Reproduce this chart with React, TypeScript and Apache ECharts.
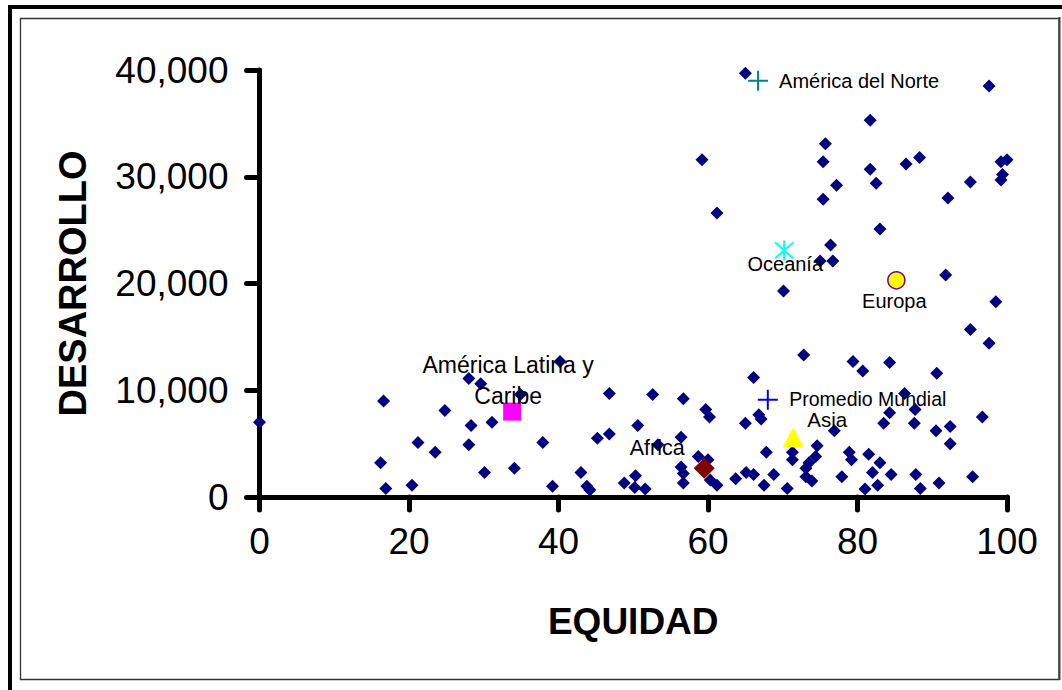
import React, { useEffect, useRef } from 'react';
import * as echarts from 'echarts';

// Countries: EQUIDAD (x) and DESARROLLO (y)
const equidad = [
  65.0, 97.6, 81.7, 75.7, 59.2, 75.4, 88.3, 86.5, 81.7, 99.2,
  100, 77.2, 82.5, 95.1, 99.4, 99.2, 75.4, 92.1, 61.2, 83.0,
  76.4, 75.0, 76.7, 91.8, 70.1, 98.5, 95.1, 97.6, 72.8, 79.4,
  84.3, 80.7, 90.6, 66.1, 52.6, 56.7, 86.3, 59.7, 60.2, 66.8,
  67.1, 65.0, 84.3, 87.7, 96.7, 83.5, 87.6, 76.9, 90.5, 92.4,
  92.4, 56.4, 67.8, 71.3, 71.3, 74.6, 74.4, 73.5, 73.1, 73.1,
  73.9, 78.9, 79.2, 81.5, 83.0, 58.7, 60.0, 56.4, 56.7, 56.7,
  60.3, 61.2, 63.7, 65.1, 66.1, 67.5, 68.8, 70.6, 77.9, 82.0,
  84.5, 82.7, 81.0, 87.8, 88.4, 90.9, 95.4, 51.6, 46.8, 50.6,
  46.8, 45.2, 37.9, 53.3, 34.1, 43.0, 39.2, 43.8, 44.2, 48.8,
  50.3, 50.2, 28.0, 29.6, 34.9, 16.6, 24.8, 0, 28.3, 31.1,
  21.2, 28.0, 23.5, 16.2, 30.1, 16.9, 20.4, 40.2,
];
const desarrollo = [
  39700, 38500, 35300, 33100, 31600, 31400, 31800, 31200, 30700, 31400,
  31600, 29200, 29400, 29500, 30200, 29700, 27900, 28000, 26600, 25100,
  23600, 22100, 22100, 20800, 19300, 18300, 15700, 14400, 13300, 12700,
  12600, 11800, 11600, 11200, 9600, 9200, 9700, 8200, 7500, 7700,
  7300, 6900, 7900, 8200, 7500, 6900, 6900, 6200, 6200, 6600,
  5000, 5600, 4200, 4200, 3500, 4800, 3800, 3200, 2700, 1900,
  1500, 4200, 3500, 4000, 3200, 3800, 3500, 2800, 2200, 1300,
  1600, 1100, 1700, 2300, 2100, 1100, 2100, 800, 1900, 2300,
  2100, 1100, 750, 2100, 800, 1300, 1900, 750, 9700, 6700,
  5900, 5500, 5100, 4900, 2700, 2300, 1000, 1000, 650, 1300,
  2000, 900, 11100, 10600, 9600, 9000, 8100, 7000, 6700, 7000,
  5100, 4900, 4200, 3200, 2300, 800, 1100, 12700,
];

// Regions
const regionNames = [
  'América del Norte', 'Oceanía', 'Europa', 'América Latina y\nCaribe',
  'Promedio Mundial', 'Asia', 'Africa',
];
const regionEquidad = [66.7, 70.2, 85.2, 33.8, 68.0, 71.4, 59.5];
const regionDesarrollo = [39000, 23100, 20300, 8000, 9100, 5600, 2700];

const xTicks = { min: 0, max: 100, interval: 20 };
const yTicks = { min: 0, max: 40000, interval: 10000 };

const plusPath = 'path://M9,0h2v9h9v2h-9v9h-2v-9h-9v-2h9z';
const starPath =
  'path://M9,0L11,0L11,20L9,20Z M2.7,1.3L18.7,17.3L17.3,18.7L1.3,2.7Z M17.3,1.3L18.7,2.7L2.7,18.7L1.3,17.3Z';

const regionStyles = [
  { symbol: plusPath, size: 20, color: '#008080', offset: [101, 0], font: 20 },
  { symbol: starPath, size: 20, color: '#00FFFF', offset: [1, 14], font: 20 },
  { symbol: 'circle', size: 17, color: '#FFFF00', border: '#800080', offset: [-2, 21], font: 20 },
  { symbol: 'rect', size: 18, color: '#FF00FF', offset: [-4, -31], font: 23 },
  { symbol: plusPath, size: 20, color: '#0000FF', offset: [100, -1], font: 19.5 },
  { symbol: 'triangle', size: [21, 20], color: '#FFFF00', offset: [34, -18], font: 20.5 },
  { symbol: 'diamond', size: 21, color: '#800000', offset: [-47, -20], font: 21.5 },
];

const FONT = '"Liberation Sans", Arial, sans-serif';

export default function App() {
  const ref = useRef<HTMLDivElement>(null);
  useEffect(() => {
    if (!ref.current) return;
    const chart = echarts.init(ref.current, null, { renderer: 'svg' });
    const countryData = equidad.map((x, i) => [x, desarrollo[i]]);
    const regionSeries = regionNames.map((name, i) => {
      const st = regionStyles[i];
      return {
        type: 'scatter',
        name,
        z: 5,
        symbol: st.symbol,
        symbolSize: st.size,
        itemStyle: {
          color: st.color,
          opacity: 1,
          borderColor: st.border || st.color,
          borderWidth: st.border ? 1.5 : 0,
        },
        label: {
          show: true,
          position: 'inside',
          offset: st.offset,
          formatter: name,
          color: '#000',
          opacity: 1,
          fontSize: st.font,
          lineHeight: 31,
          fontFamily: FONT,
          align: 'center',
        },
        emphasis: { disabled: true },
        data: [[regionEquidad[i], regionDesarrollo[i]]],
      };
    });
    chart.setOption({
      animation: false,
      backgroundColor: '#fff',
      grid: { left: 259.5, right: 55, top: 70, bottom: 193, containLabel: false },
      xAxis: {
        type: 'value',
        min: xTicks.min,
        max: xTicks.max,
        interval: xTicks.interval,
        name: 'EQUIDAD',
        nameLocation: 'middle',
        nameGap: 106,
        nameTextStyle: { fontSize: 37, fontWeight: 'bold', color: '#000', fontFamily: FONT },
        axisLine: { lineStyle: { color: '#000', width: 5, cap: 'round' } },
        axisTick: { length: 13, lineStyle: { color: '#000', width: 5, cap: 'round' } },
        axisLabel: { color: '#000', fontSize: 37, fontFamily: FONT, margin: 26 },
        splitLine: { show: false },
      },
      yAxis: {
        type: 'value',
        min: yTicks.min,
        max: yTicks.max,
        interval: yTicks.interval,
        name: 'DESARROLLO',
        nameLocation: 'middle',
        nameGap: 168,
        nameTextStyle: { fontSize: 38, fontWeight: 'bold', color: '#000', fontFamily: FONT },
        axisLine: { lineStyle: { color: '#000', width: 5, cap: 'round' } },
        axisTick: { length: 13, lineStyle: { color: '#000', width: 5, cap: 'round' } },
        axisLabel: {
          color: '#000',
          fontSize: 37,
          fontFamily: FONT,
          margin: 31,
          formatter: (v: number) => v.toLocaleString('en-US'),
        },
        splitLine: { show: false },
      },
      graphic: [
        { type: 'rect', shape: { x: 8, y: 5, width: 1054, height: 4 }, style: { fill: '#000' } },
        { type: 'rect', shape: { x: 8, y: 5, width: 4, height: 685 }, style: { fill: '#000' } },
        {
          type: 'rect',
          shape: { x: 20.5, y: 18.5, width: 1038.5, height: 661 },
          style: { fill: 'none', stroke: '#333', lineWidth: 1.3 },
        },
        {
          type: 'line',
          shape: { x1: 1059.5, y1: 17, x2: 1059.5, y2: 680 },
          style: { stroke: '#444', lineWidth: 2 },
        },
      ],
      series: [
        {
          type: 'scatter',
          name: 'Países',
          symbol: 'diamond',
          symbolSize: 13,
          itemStyle: { color: '#000080', opacity: 1 },
          emphasis: { disabled: true },
          data: countryData,
          z: 3,
        },
        ...regionSeries,
      ],
    });
    return () => chart.dispose();
  }, []);
  return (
    <div
      ref={ref}
      style={{ position: 'fixed', left: 0, top: 0, width: 1062, height: 690, background: '#fff' }}
    />
  );
}
